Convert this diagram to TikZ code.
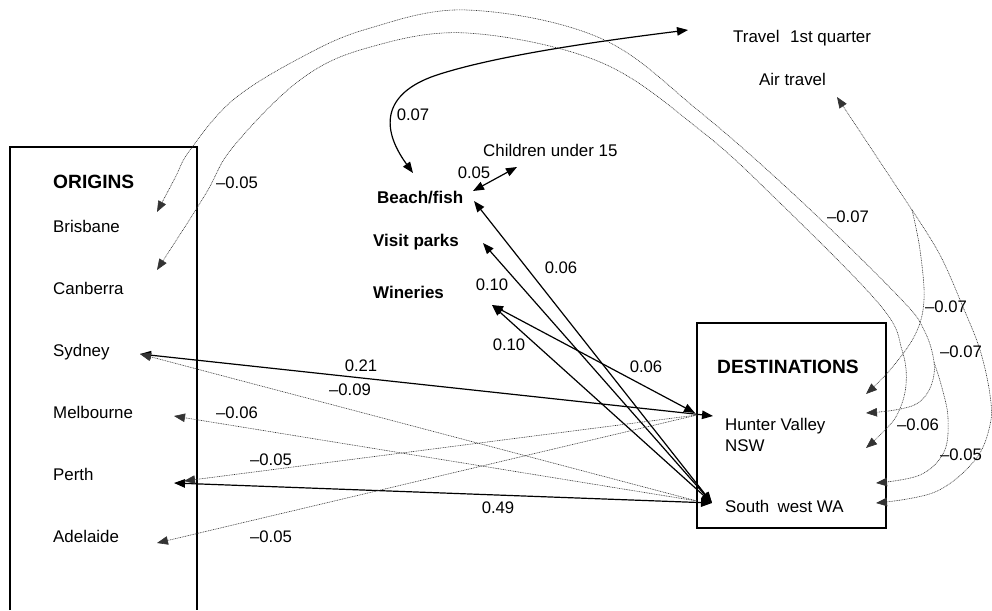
\documentclass[tikz,border=0pt]{standalone}
\usepackage{fontspec}
\setmainfont{Liberation Sans}
\usetikzlibrary{arrows.meta}
\begin{document}
\begin{tikzpicture}[x=1pt,y=-1pt,
  >={Triangle[length=11pt,width=8.5pt]},
  txt/.style={font=\fontsize{16.9}{19}\selectfont, inner sep=0pt, anchor=base west},
  btxt/.style={font=\bfseries\fontsize{17}{19}\selectfont, inner sep=0pt, anchor=base west},
  head/.style={font=\bfseries\fontsize{19.2}{21}\selectfont, inner sep=0pt, anchor=base west},
  num/.style={font=\fontsize{16.7}{19}\selectfont, inner sep=0pt},
  boxline/.style={line width=1.1pt},
  solidc/.style={line width=1.2pt, <->},
  dotc/.style={line width=0.6pt, draw=black!80, dash pattern=on 0.9pt off 0.8pt, ->},
  dotcc/.style={line width=0.6pt, draw=black!80, dash pattern=on 0.9pt off 0.8pt, <->}
]
\useasboundingbox (0,0) rectangle (992,610);

% boxes
\draw[boxline] (10,610) -- (10,147) -- (197,147) -- (197,610);
\draw[boxline] (697,323) rectangle (886,528);

% texts
\node[head] (orig) at (53,188) {ORIGINS};
\node[txt] (bris) at (53,232) {Brisbane};
\node[txt] (canb) at (53,294) {Canberra};
\node[txt] (sydn) at (53,356) {Sydney};
\node[txt] (melb) at (53,418) {Melbourne};
\node[txt] (pert) at (53,480) {Perth};
\node[txt] (adel) at (53,542) {Adelaide};

\node[btxt] (beach) at (377,203) {Beach/fish};
\node[btxt] (parks) at (373,246) {Visit parks};
\node[btxt] (wine) at (373,298) {Wineries};
\node[txt] (child) at (483,156) {Children under 15};
\node[txt] (trav) at (733,43) {Travel\hspace{6pt} 1st quarter};
\node[txt] (air) at (759,85) {Air travel};

\node[head] (dest) at (717,373) {DESTINATIONS};
\node[txt] (hv) at (725,430) {Hunter Valley};
\node[txt] (nsw) at (725,451) {NSW};
\node[txt] (sw) at (725,512) {South\hspace{3.5pt} west WA};

% tip coordinates
\coordinate (brisT) at (157,212);
\coordinate (canT) at (157,270);
\coordinate (sydT) at (140,354);
\coordinate (melT) at (174,416);
\coordinate (perT) at (174,483);
\coordinate (perT2) at (184,481);
\coordinate (adeT) at (157,543);
\coordinate (hvA) at (713,416);
\coordinate (hvB) at (695,413);
\coordinate (hvS) at (697,415);
\coordinate (swT) at (712,503);
\coordinate (swS) at (697,501);
\coordinate (beachT) at (474,201);
\coordinate (beachC) at (413,173);
\coordinate (parksT) at (483,243);
\coordinate (winT) at (492,305);
\coordinate (childA) at (473,191);
\coordinate (childB) at (517,167);
\coordinate (travT) at (688,30);
\coordinate (airT) at (837,97);
\coordinate (apex) at (912,210);
\coordinate (fork) at (934,362);
\coordinate (d1) at (866,394);
\coordinate (d2) at (866,413);
\coordinate (d3) at (866,448);
\coordinate (d4) at (876,483);
\coordinate (d5) at (876,503);

% solid connectors
\draw[solidc] (sydT) -- (hvA);
\draw[solidc] (perT) -- (swT);
\draw[solidc] (winT) -- (hvB);
\draw[solidc] (winT) -- (swT);
\draw[solidc] (parksT) -- (swT);
\draw[solidc] (beachT) -- (swT);
\draw[solidc] (childA) -- (childB);
\draw[solidc] (travT) .. controls (600,41) and (500,55) .. (440,74)
   .. controls (385,91) and (378,125) .. (beachC);

% dotted straight connectors
\draw[dotc] (hvS) -- (perT2);
\draw[dotc] (hvS) -- (adeT);
\draw[dotc] (swS) -- (sydT);
\draw[dotc] (swS) -- (melT);
\draw[dotc] (apex) -- (airT);

% dotted curves
\draw[dotcc] plot[smooth, tension=0.6] coordinates {(brisT) (175,178) (190,150) (233,100) (300,58) (367,29) (467,10) (600,38) (700,112) (800,200) (900,298) (924,330) (fork) (931,386) (918,403) (895,410) (d2)};
\draw[dotc] plot[smooth, tension=0.6] coordinates {(fork) (942,388) (948,418) (944,452) (920,475) (d4)};
\draw[dotcc] plot[smooth, tension=0.6] coordinates {(canT) (205,195) (233,147) (300,80) (367,48) (467,33) (600,62) (700,130) (777,200) (880,305) (902,350) (906,385) (897,415) (880,435) (d3)};
\draw[dotc] plot[smooth, tension=0.6] coordinates {(apex) (920,250) (924,300) (915,335) (890,370) (d1)};
\draw[dotc] plot[smooth, tension=0.6] coordinates {(apex) (940,255) (963,307) (980,350) (990,395) (990,425) (975,460) (935,492) (d5)};

% labels
\node[num] (l1) at (237,183) {--0.05};
\node[num] (l2) at (413,115) {0.07};
\node[num] (l3) at (474,173) {0.05};
\node[num] (l4) at (561,268) {0.06};
\node[num] (l5) at (492,285) {0.10};
\node[num] (l6) at (509,345) {0.10};
\node[num] (l7) at (646,367) {0.06};
\node[num] (l8) at (361,366) {0.21};
\node[num] (l9) at (350,390) {--0.09};
\node[num] (l10) at (237,413) {--0.06};
\node[num] (l11) at (271,460) {--0.05};
\node[num] (l12) at (271,537) {--0.05};
\node[num] (l13) at (498,508) {0.49};
\node[num] (l14) at (848,217) {--0.07};
\node[num] (l15) at (946,307) {--0.07};
\node[num] (l16) at (961,352) {--0.07};
\node[num] (l17) at (918,425) {--0.06};
\node[num] (l18) at (961,455) {--0.05};
\end{tikzpicture}
\end{document}
